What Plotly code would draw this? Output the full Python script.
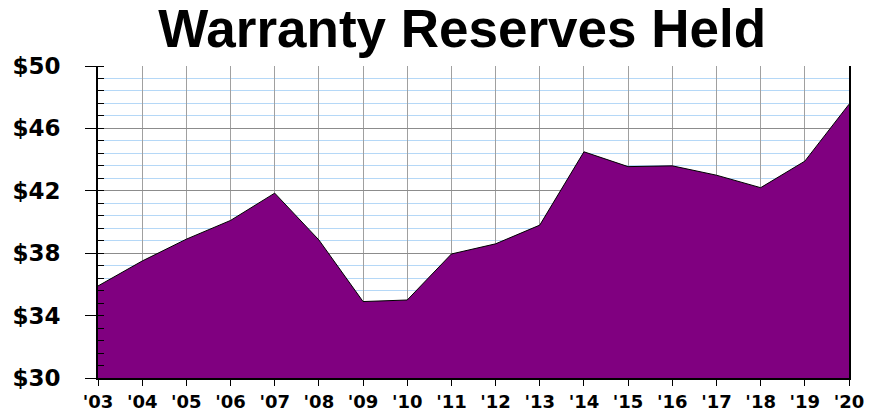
import plotly.graph_objects as go

years = list(range(2003, 2021))
year_labels = ["'03", "'04", "'05", "'06", "'07", "'08", "'09", "'10", "'11",
               "'12", "'13", "'14", "'15", "'16", "'17", "'18", "'19", "'20"]
reserves = [35.9, 37.5, 38.9, 40.1, 41.85, 38.85, 34.9, 35.0, 37.95,
            38.6, 39.8, 44.5, 43.55, 43.6, 43.0, 42.2, 43.9, 47.55]
y_ticks = [30, 34, 38, 42, 46, 50]
y_labels = ["$30", "$34", "$38", "$42", "$46", "$50"]

fig = go.Figure()
fig.add_trace(go.Scatter(
    x=years, y=reserves, mode="lines", fill="tozeroy",
    fillcolor="#800080", line=dict(color="black", width=1),
    hoverinfo="x+y", showlegend=False,
))

fig.update_layout(
    width=877, height=411,
    margin=dict(l=98, r=28, t=66, b=33, autoexpand=False),
    plot_bgcolor="white", paper_bgcolor="white",
    title=dict(text="<b>Warranty Reserves Held</b>", x=0.527, xanchor="center",
               y=0.93, yanchor="middle",
               font=dict(family="Liberation Sans, Arial", size=53, color="black")),
    xaxis=dict(
        range=[2003, 2020], tickvals=years, ticktext=year_labels,
        showgrid=True, gridcolor="#a0a0a0", gridwidth=1,
        showline=True, linecolor="black", linewidth=2,
        ticks="outside", ticklen=6, tickcolor="black", tickwidth=1,
        tickfont=dict(family="DejaVu Sans", size=18, color="black", weight="bold"),
        zeroline=False, fixedrange=True, automargin=False,
    ),
    yaxis=dict(
        range=[30, 50], tickvals=y_ticks, ticktext=y_labels,
        showgrid=True, gridcolor="#8c8c8c", gridwidth=1,
        showline=True, linecolor="black", linewidth=2, mirror=True,
        ticks="outside", ticklen=11, tickcolor="black", tickwidth=1,
        ticklabelstandoff=20,
        tickfont=dict(family="DejaVu Sans", size=23, color="black", weight="bold"),
        minor=dict(dtick=0.8, tick0=30, showgrid=True, gridcolor="#b5d8f7", gridwidth=1,
                   ticks="inside", ticklen=6, tickcolor="black", tickwidth=1),
        zeroline=False, fixedrange=True, automargin=False,
    ),
)

fig.write_html("out.html", post_script="document.body.style.margin='0';",
               config={"displayModeBar": False})
